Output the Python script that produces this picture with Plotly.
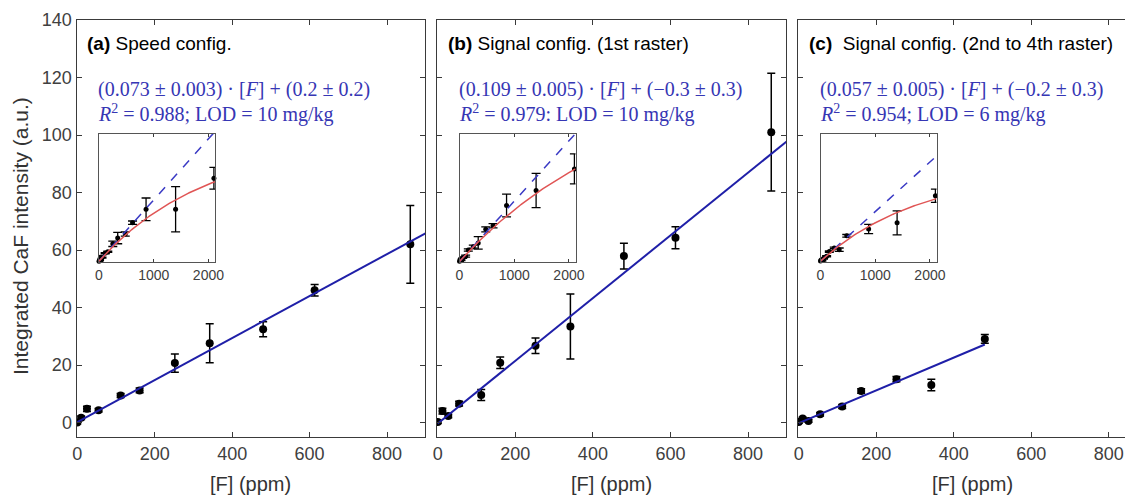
import numpy as np
import plotly.graph_objects as go

W, H = 1133, 495
PAGE_OFF = 8  # default body margin of the written page

# ---------------- data ----------------
conc_a = [0, 10, 25, 55, 112, 161, 252, 342, 480, 613, 860, 1400, 2100]
int_a = [0.0, 1.7, 4.8, 4.3, 9.4, 11.2, 20.7, 27.6, 32.5, 46.0, 62.0, 62.0, 99.0]
err_a = [0.5, 0.6, 0.9, 0.6, 0.7, 0.8, 3.2, 6.8, 2.6, 2.0, 13.5, 27.0, 13.0]

conc_b = [0, 12, 27, 55, 112, 161, 252, 342, 480, 613, 860, 1400, 2100]
int_b = [0.2, 4.0, 2.3, 6.6, 9.6, 20.8, 26.7, 33.4, 57.9, 64.3, 101.0, 128.0, 167.0]
err_b = [0.5, 1.0, 0.6, 0.8, 1.9, 2.0, 2.7, 11.3, 4.5, 3.8, 20.5, 31.0, 27.0]

conc_c = [0, 10, 25, 55, 112, 161, 252, 342, 480, 880, 1400, 2100]
int_c = [0.2, 1.4, 0.6, 2.9, 5.6, 11.0, 15.1, 13.1, 29.1, 37.0, 44.0, 75.0]
err_c = [0.4, 0.5, 0.5, 0.6, 0.7, 0.8, 0.9, 2.0, 1.5, 5.3, 13.8, 7.6]

# linear fits (slope, intercept) from the annotations
slopes = [0.073, 0.109, 0.057]
intercepts = [0.2, -0.3, -0.2]
line_end = [900, 900, 480]
# saturating fits A*(1-exp(-x/b))
sat_A = [144.6, 337.0, 105.0]
sat_b = [1980.0, 3095.0, 1843.0]

panel_tags = ["(a)", "(b)", "(c)"]
panel_names = [" Speed config.", " Signal config. (1st raster)", "&nbsp; Signal config. (2nd to 4th raster)"]
eq1 = ["(0.073 ± 0.003) · [<i>F</i>] + (0.2 ± 0.2)",
       "(0.109 ± 0.005) · [<i>F</i>] + (−0.3 ± 0.3)",
       "(0.057 ± 0.005) · [<i>F</i>] + (−0.2 ± 0.3)"]
eq2 = ["<i>R</i><sup>2</sup> = 0.988; LOD = 10 mg/kg",
       "<i>R</i><sup>2</sup> = 0.979: LOD = 10 mg/kg",
       "<i>R</i><sup>2</sup> = 0.954; LOD = 6 mg/kg"]

x_ticks = [0, 200, 400, 600, 800]
y_ticks = [0, 20, 40, 60, 80, 100, 120, 140]
inset_ticks = [0, 1000, 2000]
inset_yrange = [[-1, 152], [-1, 230], [-1, 146]]

# ---------------- layout geometry (page pixels) ----------------
panel_left = [76.5, 437.0, 798.0]
panel_right = [425.0, 786.0, 1141.0]
xranges = [[-2, 898], [-2, 898], [-2, 883]]
top_px, bot_px = 20, 437
ins_off_l, ins_off_r = 22.5, 138.5
ins_top, ins_bot = 134, 262

def fx(p):
    return (p - PAGE_OFF) / W

def fy(p):
    return 1 - (p - PAGE_OFF) / H

datasets = [(conc_a, int_a, err_a), (conc_b, int_b, err_b), (conc_c, int_c, err_c)]

fig = go.Figure()
LINE_BLUE = "#1f1fa8"
DASH_BLUE = "#3a3ac4"
RED = "#e05555"
AXC = "#3a3a3a"
TICKC = "#404040"

layout = dict(
    template="none",
    width=W, height=H, margin=dict(l=0, r=0, t=0, b=0, pad=0, autoexpand=False),
    paper_bgcolor="white", plot_bgcolor="white", showlegend=False,
    font=dict(family="Liberation Sans, Arial, sans-serif", color=TICKC),
)
annotations = []

for i in range(3):
    x, y, e = datasets[i]
    mi = i + 1
    ii = i + 4
    xa = "x" if mi == 1 else f"x{mi}"
    ya = "y" if mi == 1 else f"y{mi}"
    xi = f"x{ii}"
    yi = f"y{ii}"

    # main axes
    layout["xaxis" if mi == 1 else f"xaxis{mi}"] = dict(
        domain=[fx(panel_left[i]), min(1.0, fx(panel_right[i]))], anchor=ya, automargin=False,
        range=xranges[i], tickvals=x_ticks, ticks="inside", ticklen=5,
        tickcolor=AXC, showline=True, linecolor=AXC, linewidth=1, mirror="ticks",
        showgrid=False, zeroline=False, tickfont=dict(size=18, color=TICKC))
    layout["yaxis" if mi == 1 else f"yaxis{mi}"] = dict(
        domain=[fy(bot_px), fy(top_px)], anchor=xa, automargin=False,
        range=[-5, 140], tickvals=y_ticks, ticks="inside", ticklen=5,
        tickcolor=AXC, showline=True, linecolor=AXC, linewidth=1, mirror="ticks",
        showgrid=False, zeroline=False, showticklabels=(i == 0),
        tickfont=dict(size=18, color=TICKC))

    # inset axes
    layout[f"xaxis{ii}"] = dict(
        domain=[fx(panel_left[i] + ins_off_l), fx(panel_left[i] + ins_off_r)], anchor=yi,
        automargin=False,
        range=[0, 2120], tickvals=inset_ticks, ticks="inside", ticklen=3,
        tickcolor=AXC, showline=True, linecolor="#555555", linewidth=1, mirror="ticks",
        showgrid=False, zeroline=False, tickfont=dict(size=14, color=TICKC))
    layout[f"yaxis{ii}"] = dict(
        domain=[fy(ins_bot), fy(ins_top)], anchor=xi, automargin=False,
        range=inset_yrange[i], ticks="", showticklabels=False,
        showline=True, linecolor="#555555", linewidth=1, mirror=True,
        showgrid=False, zeroline=False)

    # main data
    fig.add_trace(go.Scatter(
        x=x, y=y, mode="markers", xaxis=xa, yaxis=ya,
        marker=dict(color="black", size=8),
        error_y=dict(type="data", array=e, color="black", thickness=1.5, width=4)))
    xl = np.linspace(0, line_end[i], 50)
    fig.add_trace(go.Scatter(
        x=xl, y=slopes[i] * xl + intercepts[i], mode="lines", xaxis=xa, yaxis=ya,
        line=dict(color=LINE_BLUE, width=2)))

    # inset data
    fig.add_trace(go.Scatter(
        x=x, y=y, mode="markers", xaxis=xi, yaxis=yi, cliponaxis=False,
        marker=dict(color="black", size=5),
        error_y=dict(type="data", array=e, color="black", thickness=1.3, width=4.5)))
    xd = np.linspace(0, 2120, 100)
    fig.add_trace(go.Scatter(
        x=xd, y=slopes[i] * xd + intercepts[i], mode="lines", xaxis=xi, yaxis=yi,
        line=dict(color=DASH_BLUE, width=1.5, dash="dash")))
    fig.add_trace(go.Scatter(
        x=xd, y=sat_A[i] * (1 - np.exp(-xd / sat_b[i])), mode="lines", xaxis=xi, yaxis=yi,
        line=dict(color=RED, width=1.5)))

    # annotations
    annotations.append(dict(
        x=fx(panel_left[i] + 8.5), y=fy(43), xref="paper", yref="paper",
        xanchor="left", yanchor="middle", showarrow=False,
        text=f"<b>{panel_tags[i]}</b>{panel_names[i]}",
        font=dict(size=19, color="black", family="Liberation Sans, Arial, sans-serif")))
    annotations.append(dict(
        x=fx(panel_left[i] + 19.5), y=fy(90), xref="paper", yref="paper",
        xanchor="left", yanchor="middle", showarrow=False, text=eq1[i],
        font=dict(size=20, color="#3636b4", family="Liberation Serif, Times New Roman, serif")))
    annotations.append(dict(
        x=fx(panel_left[i] + 19.5), y=fy(113), xref="paper", yref="paper",
        xanchor="left", yanchor="middle", showarrow=False, text=eq2[i],
        font=dict(size=20, color="#3636b4", family="Liberation Serif, Times New Roman, serif")))
    xc = [250.7, 611.5, 972.0][i]
    annotations.append(dict(
        x=fx(xc), y=fy(484), xref="paper", yref="paper",
        xanchor="center", yanchor="middle", showarrow=False, text="[F] (ppm)",
        font=dict(size=20, color="#333333")))

annotations.append(dict(
    x=fx(20), y=fy(236), xref="paper", yref="paper", textangle=-90,
    xanchor="center", yanchor="middle", showarrow=False,
    text="Integrated CaF intensity (a.u.)", font=dict(size=21, color="#333333")))

layout["annotations"] = annotations
fig.update_layout(**layout)
fig.write_html("out.html")
